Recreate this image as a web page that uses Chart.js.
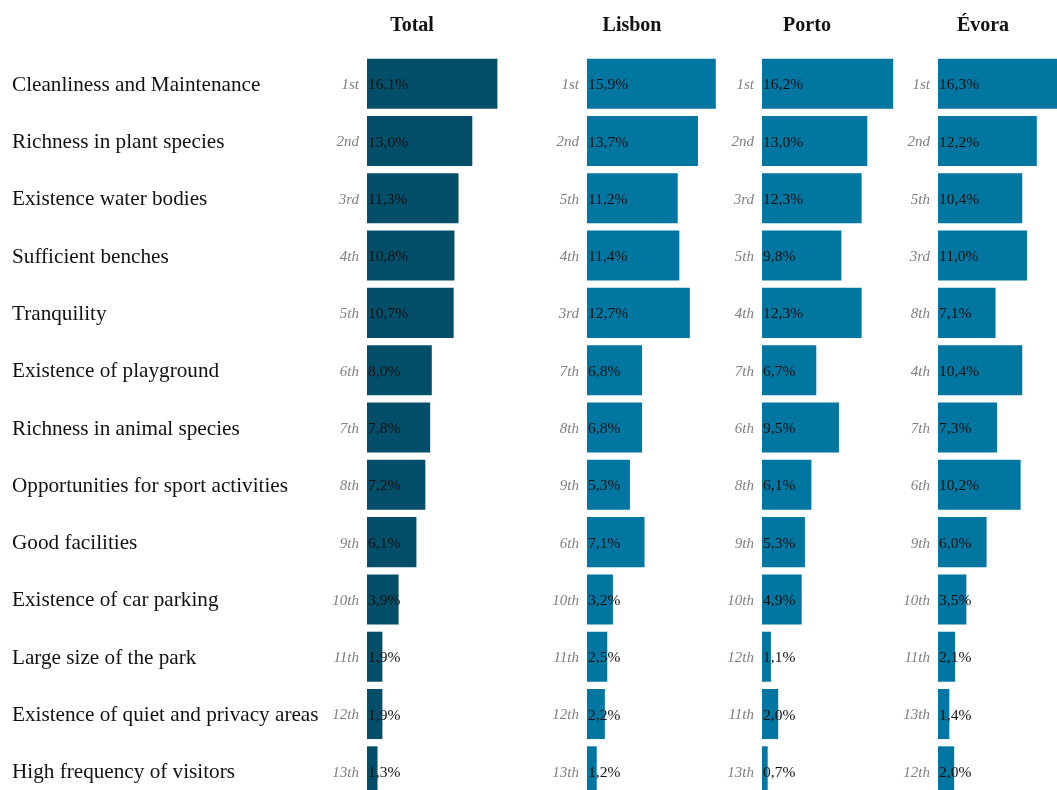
<!DOCTYPE html>
<html><head><meta charset="utf-8">
<script src="https://cdn.jsdelivr.net/npm/chart.js@4.4.1/dist/chart.umd.min.js"></script>
<style>
html,body{margin:0;padding:0;background:#fff;overflow:hidden;width:1057px;height:790px;position:relative}
.p{position:absolute;top:0}
</style></head>
<body>
<div class="p" style="left:0"><canvas id="c0" width="540" height="810"></canvas></div>
<div class="p" style="left:540px"><canvas id="c1" width="220" height="810"></canvas></div>
<div class="p" style="left:715px"><canvas id="c2" width="220" height="810"></canvas></div>
<div class="p" style="left:890px"><canvas id="c3" width="221" height="810"></canvas></div>
<script>
const categories = [
  'Cleanliness and Maintenance',
  'Richness in plant species',
  'Existence water bodies',
  'Sufficient benches',
  'Tranquility',
  'Existence of playground',
  'Richness in animal species',
  'Opportunities for sport activities',
  'Good facilities',
  'Existence of car parking',
  'Large size of the park',
  'Existence of quiet and privacy areas',
  'High frequency of visitors'
];
const panelTitles = ['Total', 'Lisbon', 'Porto', 'Évora'];

const totalValues  = [16.1, 13.0, 11.3, 10.8, 10.7, 8.0, 7.8, 7.2, 6.1, 3.9, 1.9, 1.9, 1.3];
const totalRanks   = ['1st','2nd','3rd','4th','5th','6th','7th','8th','9th','10th','11th','12th','13th'];
const lisbonValues = [15.9, 13.7, 11.2, 11.4, 12.7, 6.8, 6.8, 5.3, 7.1, 3.2, 2.5, 2.2, 1.2];
const lisbonRanks  = ['1st','2nd','5th','4th','3rd','7th','8th','9th','6th','10th','11th','12th','13th'];
const portoValues  = [16.2, 13.0, 12.3, 9.8, 12.3, 6.7, 9.5, 6.1, 5.3, 4.9, 1.1, 2.0, 0.7];
const portoRanks   = ['1st','2nd','3rd','5th','4th','7th','6th','8th','9th','10th','12th','11th','13th'];
const evoraValues  = [16.3, 12.2, 10.4, 11.0, 7.1, 10.4, 7.3, 10.2, 6.0, 3.5, 2.1, 1.4, 2.0];
const evoraRanks   = ['1st','2nd','5th','3rd','8th','4th','7th','6th','9th','10th','11th','13th','12th'];

const FONT = '"Liberation Serif", "Times New Roman", serif';

const labelPlugin = {
  id: 'panelLabels',
  afterDatasetsDraw(chart, args, opts) {
    const ctx = chart.ctx, xs = chart.scales.x, ys = chart.scales.y;
    const x0 = xs.getPixelForValue(0);
    ctx.save();
    ctx.textBaseline = 'middle';
    ctx.font = 'bold 20px ' + FONT;
    ctx.fillStyle = '#111';
    ctx.textAlign = 'center';
    ctx.fillText(opts.title, x0 + 45, 26);
    const data = chart.data.datasets[0].data;
    data.forEach((v, i) => {
      const y = ys.getPixelForValue(i) + 1.5;
      ctx.font = 'italic 15px ' + FONT;
      ctx.fillStyle = '#808080';
      ctx.textAlign = 'right';
      ctx.fillText(opts.ranks[i], x0 - 8, y);
      ctx.font = '15.5px ' + FONT;
      ctx.fillStyle = '#111';
      ctx.textAlign = 'left';
      ctx.fillText(v.toFixed(1).replace('.', ',') + '%', x0 + 1, y);
      if (opts.showCategories) {
        ctx.font = '21.2px ' + FONT;
        ctx.fillText(chart.data.labels[i], 12, y);
      }
    });
    ctx.restore();
  }
};

function makePanel(id, title, values, ranks, color, padLeft, showCategories) {
  const canvas = document.getElementById(id);
  const areaWidth = 162;
  new Chart(canvas, {
    type: 'bar',
    data: {
      labels: categories,
      datasets: [{ data: values, backgroundColor: color, borderWidth: 0,
                   barPercentage: 0.873, categoryPercentage: 1.0 }]
    },
    options: {
      indexAxis: 'y',
      responsive: false,
      animation: false,
      events: [],
      layout: { padding: { left: padLeft, right: canvas.width - padLeft - areaWidth, top: 55, bottom: 10 } },
      scales: {
        x: { display: false, min: 0, max: 20 },
        y: { display: false }
      },
      plugins: {
        legend: { display: false },
        tooltip: { enabled: false },
        panelLabels: { title: title, ranks: ranks, showCategories: showCategories }
      }
    },
    plugins: [labelPlugin]
  });
}

makePanel('c0', panelTitles[0], totalValues,  totalRanks,  '#034E69', 367, true);
makePanel('c1', panelTitles[1], lisbonValues, lisbonRanks, '#0076A1', 47, false);
makePanel('c2', panelTitles[2], portoValues,  portoRanks,  '#0076A1', 47, false);
makePanel('c3', panelTitles[3], evoraValues,  evoraRanks,  '#0076A1', 48, false);
</script>
</body></html>
